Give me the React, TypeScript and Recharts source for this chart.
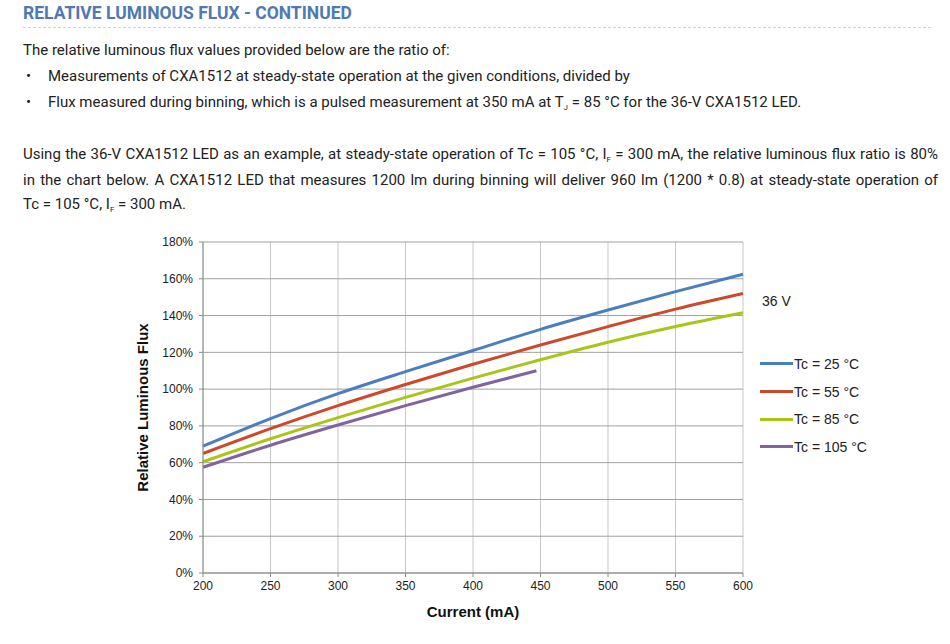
import React from 'react';
import { LineChart, Line, XAxis, YAxis, CartesianGrid } from 'recharts';

// current (mA)
const currents = [200, 250, 300, 350, 400, 447, 450, 500, 550, 600];

// relative luminous flux (%) per case temperature
const tc25 = [69, 84, 97.5, 109.5, 121, null, 132.5, 143, 153, 162.5];
const tc55 = [65, 78.5, 91, 102.5, 113.5, null, 124, 134, 143.5, 152];
const tc85 = [60.5, 73, 84.5, 95.5, 106, null, 116, 125.5, 134, 141.5];
const tc105 = [57.5, 69.5, 80.5, 91, 101, 110, null, null, null, null];

const yTicks = [0, 20, 40, 60, 80, 100, 120, 140, 160, 180];
const xTicks = [200, 250, 300, 350, 400, 450, 500, 550, 600];

const SERIES = [
  { key: 'tc25', name: 'Tc = 25 °C', color: '#4a7ebf', values: tc25 },
  { key: 'tc55', name: 'Tc = 55 °C', color: '#cc4a2c', values: tc55 },
  { key: 'tc85', name: 'Tc = 85 °C', color: '#abc418', values: tc85 },
  { key: 'tc105', name: 'Tc = 105 °C', color: '#7f64a0', values: tc105 },
];

const data = currents.map((c, i) => {
  const row: any = { current: c };
  SERIES.forEach((s) => {
    row[s.key] = s.values[i];
  });
  return row;
});

const bodyFont = 'Roboto, "Noto Sans", sans-serif';
const chartFont = '"Liberation Sans", Arial, sans-serif';

function LegendBox() {
  return (
    <div style={{ position: 'absolute', left: 760, top: 292, fontFamily: chartFont, fontSize: 14, color: '#222' }}>
      <div style={{ marginLeft: 2, height: 18, lineHeight: '18px' }}>36 V</div>
      <div style={{ height: 40 }} />
      {SERIES.map((s) => (
        <div key={s.key} style={{ display: 'flex', alignItems: 'center', height: 27.7 }}>
          <span style={{ display: 'inline-block', width: 33, height: 3, background: s.color }} />
          <span style={{ marginLeft: 1 }}>{s.name}</span>
        </div>
      ))}
    </div>
  );
}

const sub = (t: string) => <sub style={{ fontSize: 8, verticalAlign: -3, lineHeight: 0 }}>{t}</sub>;

const justLine = { textAlign: 'justify' as const, textAlignLast: 'justify' as const, height: 26 };

export default function App() {
  return (
    <div style={{ position: 'absolute', left: 0, top: 0, width: 950, height: 644, background: '#fff', overflow: 'hidden' }}>
      <div
        style={{
          position: 'absolute',
          left: 23,
          top: 3,
          fontFamily: bodyFont,
          fontWeight: 700,
          fontSize: 17.5,
          color: '#4f79b2',
        }}
      >
        RELATIVE LUMINOUS FLUX - CONTINUED
      </div>
      <div style={{ position: 'absolute', left: 23, top: 27, width: 908, borderTop: '1px dashed #eedc5a' }} />

      <div style={{ position: 'absolute', left: 23, top: 37, width: 915, fontFamily: bodyFont, fontSize: 15, color: '#222', lineHeight: '26px' }}>
        <div style={{ height: 26 }}>The relative luminous flux values provided below are the ratio of:</div>
        <div style={{ display: 'flex', height: 26 }}>
          <span style={{ width: 22, paddingLeft: 3 }}>•</span>
          <span>Measurements of CXA1512 at steady-state operation at the given conditions, divided by</span>
        </div>
        <div style={{ display: 'flex', height: 26 }}>
          <span style={{ width: 22, paddingLeft: 3 }}>•</span>
          <span>
            Flux measured during binning, which is a pulsed measurement at 350 mA at T{sub('J')} = 85 °C for the 36-V CXA1512 LED.
          </span>
        </div>
        <div style={{ height: 26 }} />
        <div style={justLine}>
          Using the 36-V CXA1512 LED as an example, at steady-state operation of Tc = 105 °C, I{sub('F')} = 300 mA, the relative luminous flux ratio is 80%
        </div>
        <div style={justLine}>
          in the chart below. A CXA1512 LED that measures 1200 lm during binning will deliver 960 lm (1200 * 0.8) at steady-state operation of
        </div>
        <div style={{ height: 22, lineHeight: '22px' }}>
          Tc = 105 °C, I{sub('F')} = 300 mA.
        </div>
      </div>

      <div style={{ position: 'absolute', left: 0, top: 220 }}>
        <LineChart width={900} height={410} data={data} margin={{ top: 22, right: 157, left: 133, bottom: 7 }}>
          <CartesianGrid horizontal={false} stroke="#c8c8c8" />
          <CartesianGrid vertical={false} stroke="#a0a0a0" />
          <XAxis
            dataKey="current"
            type="number"
            domain={[200, 600]}
            ticks={xTicks}
            interval={0}
            height={50}
            stroke="#8a8a8a"
            tickSize={4}
            tick={{ fill: '#222', fontSize: 12, fontFamily: chartFont }}
            tickMargin={4}
            label={{ value: 'Current (mA)', position: 'insideBottom', offset: 6, fill: '#111', fontSize: 15, fontWeight: 700, fontFamily: chartFont }}
          />
          <YAxis
            width={70}
            type="number"
            domain={[0, 180]}
            ticks={yTicks}
            interval={0}
            tickFormatter={(v) => `${v}%`}
            stroke="#8a8a8a"
            tickSize={4}
            tickMargin={6}
            tick={{ fill: '#222', fontSize: 12, fontFamily: chartFont }}
            label={{ value: 'Relative Luminous Flux', angle: -90, position: 'insideLeft', offset: 10, style: { textAnchor: 'middle' }, fill: '#111', fontSize: 15, fontWeight: 700, fontFamily: chartFont }}
          />
          {SERIES.map((s) => (
            <Line
              key={s.key}
              dataKey={s.key}
              name={s.name}
              stroke={s.color}
              strokeWidth={3}
              dot={false}
              connectNulls
              type="monotone"
              isAnimationActive={false}
            />
          ))}
        </LineChart>
      </div>
      <LegendBox />
    </div>
  );
}
